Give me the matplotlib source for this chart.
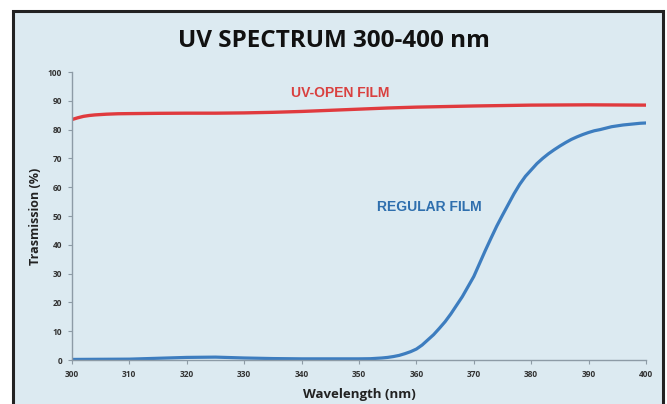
import numpy as np
import matplotlib
matplotlib.use("Agg")
import matplotlib.pyplot as plt
from matplotlib.patches import Rectangle

# transmission curves, wavelength in nm, transmission in %
wl_open = [300, 301, 302, 303, 304, 306, 308, 310, 315, 320, 325, 330, 335,
           340, 345, 350, 355, 360, 365, 370, 375, 380, 385, 390, 395, 400]
t_open = [83.5, 84.1, 84.6, 84.9, 85.1, 85.35, 85.5, 85.55, 85.65, 85.7, 85.7,
          85.8, 86.0, 86.3, 86.7, 87.1, 87.5, 87.8, 88.0, 88.2, 88.35, 88.5,
          88.55, 88.6, 88.55, 88.5]

wl_reg = [300, 305, 310, 315, 320, 325, 330, 335, 340, 345, 350, 352, 354,
          355, 356, 357, 358, 359, 360, 361, 362, 363, 364, 365, 366, 367,
          368, 369, 370, 371, 372, 373, 374, 375, 376, 377, 378, 379, 380,
          381, 382, 383, 384, 385, 386, 387, 388, 389, 390, 391, 392, 393,
          394, 395, 396, 397, 398, 399, 400]
t_reg = [0.2, 0.25, 0.3, 0.6, 0.9, 1.0, 0.7, 0.5, 0.4, 0.4, 0.4, 0.45, 0.7,
         0.9, 1.2, 1.6, 2.2, 2.9, 3.8, 5.2, 7.0, 8.8, 11.0, 13.3, 16.0, 19.0,
         22.0, 25.5, 29.0, 33.5, 38.0, 42.3, 46.5, 50.3, 54.0, 57.7, 61.0,
         63.8, 66.0, 68.2, 70.0, 71.6, 73.0, 74.3, 75.5, 76.6, 77.5, 78.3,
         79.0, 79.6, 80.0, 80.5, 81.0, 81.3, 81.6, 81.8, 82.0, 82.2, 82.3]

xticks = list(range(300, 401, 10))
yticks = list(range(0, 101, 10))

W, H = 667, 404
fig = plt.figure(figsize=(W / 100, H / 100), dpi=100, facecolor="white")

# light blue panel with dark frame (runs off the bottom edge)
panel = Rectangle((13 / W, -0.2), (663 - 13) / W, 1.2 - 11 / H,
                  transform=fig.transFigure, facecolor="#dceaf1",
                  edgecolor="#222222", linewidth=2.2, zorder=-5)
fig.patches.append(panel)

ax = fig.add_axes([72 / W, 1 - 360 / H, (646 - 72) / W, (360 - 72) / H])
ax.set_facecolor("none")

ax.plot(wl_open, t_open, color="#e03a3e", linewidth=2.4,
        solid_capstyle="round", solid_joinstyle="round")
ax.plot(wl_reg, t_reg, color="#3d7dbf", linewidth=2.3,
        solid_capstyle="round", solid_joinstyle="round")

ax.set_xlim(300, 400)
ax.set_ylim(0, 100)
ax.set_xticks(xticks)
ax.set_yticks(yticks)

for s in ["top", "right"]:
    ax.spines[s].set_visible(False)
for s in ["left", "bottom"]:
    ax.spines[s].set_color("#8d9ba6")
    ax.spines[s].set_linewidth(1.0)

ax.tick_params(axis="both", direction="out", length=3, width=0.8,
               color="#8d9ba6", labelcolor="#333333", labelsize=6)
ax.tick_params(axis="x", pad=4)
ax.tick_params(axis="y", pad=4)
for lab in ax.get_xticklabels() + ax.get_yticklabels():
    lab.set_fontweight("bold")
    lab.set_family("Open Sans")

ax.text(346.7, 92.7, "UV-OPEN FILM", color="#d9403f", fontsize=10,
        fontweight="bold", family="Liberation Sans", ha="center", va="center")
ax.text(362.2, 53.1, "REGULAR FILM", color="#2f6fae", fontsize=10,
        fontweight="bold", family="Liberation Sans", ha="center", va="center")

fig.text(0.5, 1 - 41 / H, "UV SPECTRUM 300-400 nm", fontsize=17.5,
         fontweight="bold", family="Open Sans", ha="center", va="center",
         color="#111111")
ax.set_xlabel("Wavelength (nm)", fontsize=9.5, fontweight="bold",
              family="Open Sans", color="#222222", labelpad=7)
ax.set_ylabel("Trasmission (%)", fontsize=9, fontweight="bold",
              family="Open Sans", color="#222222", labelpad=4)

fig.savefig("out.png", dpi=100, facecolor="white")
